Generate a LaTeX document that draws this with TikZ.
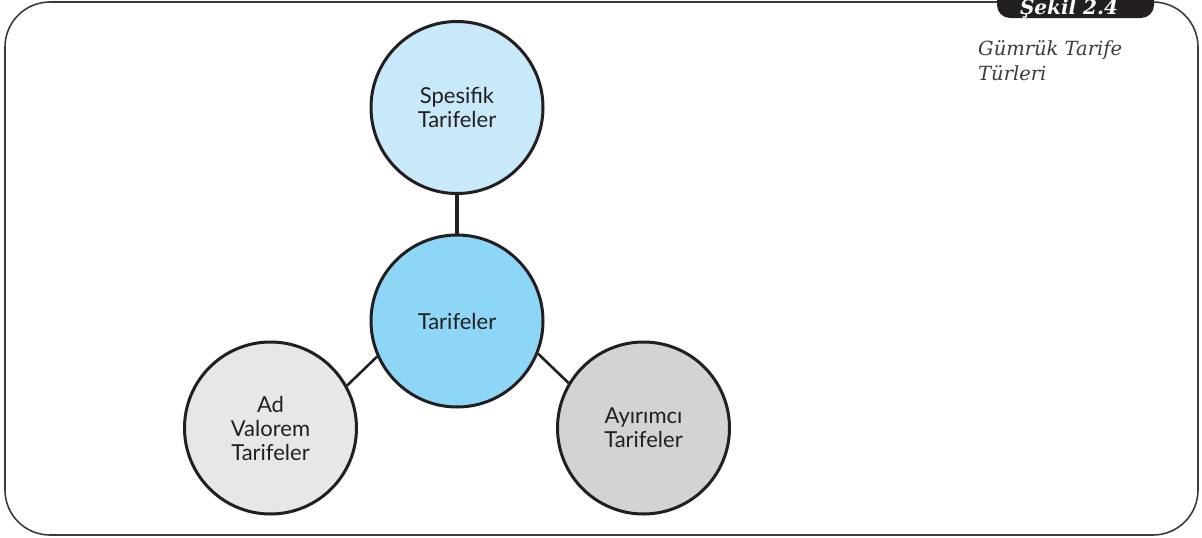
\documentclass[tikz,border=0pt]{standalone}
\usepackage{fontspec}
\setmainfont{Lato}
\newfontfamily\titlefont{DejaVu Serif}
\begin{document}
\begin{tikzpicture}[x=1pt,y=-1pt,
  bubble/.style={circle, draw=inkc, line width=3pt, minimum size=172pt,
    inner sep=0pt, align=center, text=inkc, font=\fontsize{22}{24}\selectfont},
  link/.style={draw=inkc, line width=2.6pt},
  captxt/.style={anchor=base west, inner sep=0pt, text=framec,
    font=\titlefont\itshape\fontsize{19.5}{24}\selectfont},
]
\definecolor{inkc}{HTML}{231F20}
\definecolor{skylt}{HTML}{C8E9F9}
\definecolor{skymd}{HTML}{8DD6F6}
\definecolor{greylt}{HTML}{E6E7E8}
\definecolor{greymd}{HTML}{D1D3D4}
\definecolor{framec}{HTML}{3C3C3C}
\useasboundingbox (0,0) rectangle (1202,538);

% outer frame
\draw[framec, line width=1.6pt, rounded corners=45pt] (5,2) rectangle (1198,535);

% figure tab
\fill[inkc, rounded corners=13pt] (997,-20) -- (997,18) -- (1154,18) -- (1154,-20) -- cycle;
\node[anchor=base, inner sep=0pt, text=white,
  font=\titlefont\bfseries\itshape\fontsize{20}{22}\selectfont]
  (tab) at (1069,14.5) {Şekil 2.4};

% caption
\node[captxt] (cap1) at (978,55) {Gümrük Tarife};
\node[captxt] (cap2) at (978,80) {Türleri};

% bubbles
\node[bubble, fill=skylt]  (spec) at (457,107.5) {Spesifik\\Tarifeler};
\node[bubble, fill=skymd]  (core) at (457,321)   {Tarifeler};
\node[bubble, fill=greylt] (adv)  at (270.5,428) {Ad\\Valorem\\Tarifeler};
\node[bubble, fill=greymd] (ayr)  at (643.5,428) {Ayırımcı\\Tarifeler};

% connectors
\draw[link, line width=3.6pt] (spec.south) -- (core.north);
\draw[link] (core.204) -- (adv.29);
\draw[link] (core.338) -- (ayr.149);
\end{tikzpicture}
\end{document}
